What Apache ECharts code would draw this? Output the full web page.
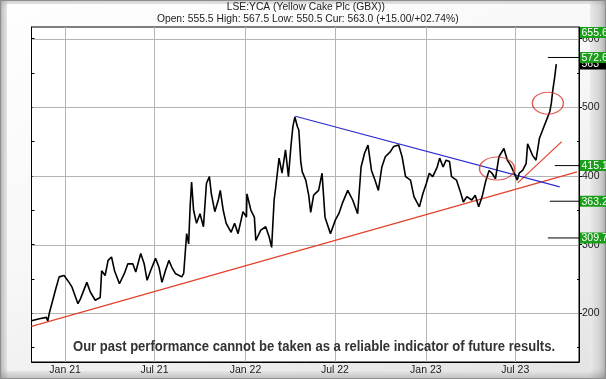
<!DOCTYPE html>
<html><head><meta charset="utf-8">
<script src="https://cdn.jsdelivr.net/npm/echarts@6/dist/echarts.min.js"></script>
<style>
html,body{margin:0;padding:0;background:#fff;}
#frame{position:absolute;left:0;top:0;width:606px;height:379px;box-sizing:border-box;border:1px solid #8e8e8e;
 background:linear-gradient(to right,#c6c6c6 0px,#ececec 8px,#ececec 588px,#d4d4d4 598px,#b4b4b4 606px);
 box-shadow: inset 0 4px 4px -2px rgba(0,0,0,0.12), inset 0 -6px 6px -2px rgba(0,0,0,0.18);}
#panel{position:absolute;left:7px;top:4px;width:583px;height:367px;background:linear-gradient(160deg,#fefefe 0%,#f8f8f8 45%,#e4e4e4 100%);}
#chart{position:absolute;left:0;top:0;width:606px;height:379px;}
</style></head>
<body>
<div id="frame"></div>
<div id="panel"></div>
<div id="chart"></div>
<script>
// ---- data ----
const dates = ['2020-10-25','2020-11-10','2020-11-24','2020-11-27','2020-11-30','2020-12-07','2020-12-14','2020-12-20','2020-12-30',
'2021-01-09','2021-01-15','2021-01-27','2021-02-01','2021-02-14','2021-02-21','2021-03-03','2021-03-13','2021-03-16','2021-03-23','2021-03-29',
'2021-04-05','2021-04-11','2021-04-21','2021-05-01','2021-05-08','2021-05-18','2021-05-24','2021-06-03','2021-06-10','2021-06-16','2021-06-23',
'2021-07-03','2021-07-10','2021-07-16','2021-07-23','2021-07-30','2021-08-05','2021-08-12','2021-08-25','2021-08-29','2021-09-01','2021-09-04',
'2021-09-08','2021-09-11','2021-09-14','2021-09-18','2021-09-24','2021-10-01','2021-10-08','2021-10-14','2021-10-20','2021-10-24','2021-10-31',
'2021-11-07','2021-11-11','2021-11-17','2021-11-23','2021-12-03','2021-12-10','2021-12-17','2021-12-27',
'2022-01-03','2022-01-04','2022-01-12','2022-01-19','2022-01-22','2022-02-01','2022-02-11','2022-02-18','2022-02-23','2022-02-28','2022-03-03',
'2022-03-10','2022-03-16','2022-03-23','2022-03-29','2022-04-03','2022-04-07','2022-04-11','2022-04-16','2022-04-19','2022-04-23','2022-04-26',
'2022-05-03','2022-05-09','2022-05-13','2022-05-19','2022-05-29','2022-06-05','2022-06-11','2022-06-15','2022-06-22','2022-07-02','2022-07-09',
'2022-07-16','2022-07-27','2022-08-06','2022-08-16','2022-08-23','2022-08-30','2022-09-06','2022-09-13','2022-09-20','2022-09-27','2022-10-04',
'2022-10-11','2022-10-21','2022-10-28','2022-11-07','2022-11-14','2022-11-21','2022-12-01','2022-12-08','2022-12-19','2022-12-26',
'2023-01-02','2023-01-08','2023-01-15','2023-01-24','2023-01-29','2023-02-05','2023-02-11','2023-02-18','2023-02-22','2023-03-04','2023-03-11',
'2023-03-18','2023-03-25','2023-04-04','2023-04-11','2023-04-18','2023-04-25','2023-05-02','2023-05-09','2023-05-15','2023-05-22','2023-05-25',
'2023-05-29','2023-06-08','2023-06-15','2023-06-22','2023-06-29','2023-07-05','2023-07-09','2023-07-16','2023-07-23','2023-07-26','2023-08-05',
'2023-08-12','2023-08-19','2023-08-26','2023-09-02','2023-09-09','2023-09-12','2023-09-15','2023-09-19','2023-09-22'];
const prices = [189,192,194,189,200,219,238,253,255,
245,238,214,221,245,231,219,223,262,255,277,
282,262,243,258,272,272,260,287,272,248,262,
280,267,245,262,277,267,258,253,258,287,316,
301,355,391,350,331,345,326,389,399,374,348,
365,379,350,331,318,331,316,348,
340,374,350,340,306,321,326,311,296,365,382,
426,404,438,399,443,472,486,472,467,420,406,
394,372,347,372,379,404,340,331,316,336,345,
360,379,365,345,413,433,445,408,394,379,413,
428,435,443,445,428,399,394,370,355,374,
389,404,399,413,426,413,423,421,399,394,379,
362,370,365,372,355,370,392,408,404,396,394,
428,440,423,415,404,394,404,408,418,447,430,
423,455,468,481,494,506,525,545,563];

const blueDates = ['2022-04-12','2023-09-29'];
const blueValues = [487, 384];
const redLongDates = ['2020-10-25','2023-11-03'];
const redLongValues = [181, 406];
const redShortDates = ['2023-07-06','2023-10-03'];
const redShortValues = [390, 450];
const circleDates = ['2023-05-25','2023-09-05'];
const circleValues = [411, 506];

const targetLevels = [655.6, 572.6, 415.1, 363.2, 309.7];
const targetLabels = ['655.6','572.6','415.1','363.2','309.7'];
const targetStart = [null,'2023-09-05','2023-09-19','2023-09-09','2023-09-05'];
const currentPrice = 563.0;
const currentLabel = '563';

const yTickLabels = [200,300,400,500,600];
const yMinorTicks = [150,250,350,450,550];
const yAllTicks = [150,200,250,300,350,400,450,500,550,600];
const monthNames = ['Jan','Feb','Mar','Apr','May','Jun','Jul','Aug','Sep','Oct','Nov','Dec'];

const titleText = 'LSE:YCA (Yellow Cake Plc (GBX))';
const subText = 'Open: 555.5 High: 567.5 Low: 550.5 Cur: 563.0 (+15.00/+02.74%)';
const disclaimer = 'Our past performance cannot be taken as a reliable indicator of future results.';

const xMin = '2020-10-25', xMax = '2023-11-07';
const yMin = 129, yMax = 617;

// ---- build ----
const DAY = 86400000;
const FONT = '"Liberation Sans", Arial, sans-serif';
const pair = (ds, vs) => ds.map((d, i) => [d, vs[i]]);

const series = [
  {type:'line', data: pair(redLongDates, redLongValues), showSymbol:false, lineStyle:{color:'#e3412c', width:1.2}, z:3, silent:true},
  {type:'line', data: pair(redShortDates, redShortValues), showSymbol:false, lineStyle:{color:'#e3412c', width:1.2}, z:3, silent:true},
  {type:'line', data: pair(blueDates, blueValues), showSymbol:false, lineStyle:{color:'#2c2ccf', width:1.2}, z:3, silent:true},
  {type:'line', data: pair(dates, prices), showSymbol:false, lineStyle:{color:'#000', width:1.6}, z:4, silent:true},
  {type:'scatter', data: circleDates.map((d, i) => ({value:[d, circleValues[i]], symbolSize: i === 0 ? [35, 23] : [31, 22]})),
   symbol:'circle', itemStyle:{color:'rgba(0,0,0,0)', borderColor:'#d9342a', borderWidth:1.2}, z:5, silent:true}
];
targetLevels.forEach((v, i) => {
  if (targetStart[i]) series.push({type:'line', data:[[targetStart[i], v],[xMax, v]], showSymbol:false,
    lineStyle:{color:'#000', width:1}, z:3, silent:true});
});

const option = {
  backgroundColor: 'transparent',
  animation: false,
  grid: {left: 31.5, right: 27, top: 27, bottom: 17, show: true, backgroundColor: '#fff', borderColor: '#000', borderWidth: 1, containLabel:false, outerBoundsMode:'none'},
  xAxis: {type:'time', min: xMin, max: xMax, splitNumber: 6, minInterval: 180*DAY, maxInterval: 186*DAY,
    axisLine:{show:true, lineStyle:{color:'#000'}}, axisTick:{show:false},
    axisLabel:{fontFamily: FONT, fontSize:10.5, color:'#1a1a1a', margin:3, showMinLabel:false, showMaxLabel:false,
      formatter: v => { const d = new Date(v); return monthNames[d.getMonth()] + ' ' + String(d.getFullYear()).slice(2); }},
    splitLine:{show:true, lineStyle:{color:'#b4b4b4', width:1}}},
  yAxis: [
    {type:'value', position:'right', min:yMin, max:yMax, splitNumber:4,
     axisLine:{show:true, lineStyle:{color:'#000'}},
     axisTick:{show:true, customValues: yTickLabels, length:3, lineStyle:{color:'#000'}},
     axisLabel:{customValues: yTickLabels, margin:3, fontFamily: FONT, fontSize:10.5, color:'#1a1a1a'},
     splitLine:{show:false}},
    {type:'value', position:'left', min:yMin, max:yMax, splitNumber:4,
     axisLine:{show:true, lineStyle:{color:'#000'}},
     axisTick:{show:true, inside:true, customValues: yAllTicks, length:3, lineStyle:{color:'#000'}},
     axisLabel:{show:false}, splitLine:{show:false}},
    {type:'value', position:'right', min:yMin, max:yMax, splitNumber:4,
     axisLine:{show:false},
     axisTick:{show:true, inside:true, customValues: yMinorTicks, length:2, lineStyle:{color:'#000'}},
     axisLabel:{show:false}, splitLine:{show:false}}
  ],
  series: series
};

const chart = echarts.init(document.getElementById('chart'), null, {renderer:'canvas'});
chart.setOption(option);

const yTop = chart.convertToPixel({yAxisIndex:0}, yMax);
const xR = chart.convertToPixel({xAxisIndex:0}, new Date(xMax).getTime());
const xL = chart.convertToPixel({xAxisIndex:0}, new Date(xMin).getTime());
const yBot = chart.convertToPixel({yAxisIndex:0}, yMin);
const g = [];
// horizontal grid lines at the labelled values, placed through the y scale
yTickLabels.forEach(v => {
  const y = Math.round(chart.convertToPixel({yAxisIndex:0}, v)) + 0.5;
  g.push({type:'line', shape:{x1:xL + 1, y1:y, x2:xR - 1, y2:y}, style:{stroke:'#b4b4b4', lineWidth:1}, z:2.5, silent:true});
});
function box(v, txt, fill, z) {
  let y = chart.convertToPixel({yAxisIndex:0}, v);
  y = Math.max(y, yTop + 5.5);
  g.push({type:'rect', shape:{x:xR + 1, y:y - 5.5, width:34, height:11}, style:{fill:fill}, z:z, silent:true});
  g.push({type:'text', x:xR + 2.5, y:y + 0.5, style:{text:txt, fill:'#fff', font:'10.5px ' + FONT, textVerticalAlign:'middle', verticalAlign:'middle'}, z:z + 1, silent:true});
}
box(currentPrice, currentLabel, '#000', 50);
targetLevels.forEach((v, i) => box(v, targetLabels[i], '#1a9e1a', 60));
g.push({type:'text', x:(xL + xR) / 2 + 0.5, y:7.5, style:{text:titleText, fill:'#222', font:'10.3px ' + FONT, textAlign:'center', align:'center', textVerticalAlign:'middle', verticalAlign:'middle'}, z:70, silent:true});
g.push({type:'text', x:(xL + xR) / 2 + 2.5, y:19.5, style:{text:subText, fill:'#222', font:'10.3px ' + FONT, textAlign:'center', align:'center', textVerticalAlign:'middle', verticalAlign:'middle'}, z:70, silent:true});
// disclaimer: bold, horizontally condensed to the reference's width
const dFont = 'bold 14px "Liberation Sans", Arial, sans-serif';
const ctx = document.createElement('canvas').getContext('2d');
ctx.font = dFont;
const dScale = 482 / ctx.measureText(disclaimer).width;
g.push({type:'text', x:314, y:yBot - 15, scaleX:dScale, style:{text:disclaimer, fill:'#333', font:dFont, textAlign:'center', align:'center', textVerticalAlign:'middle', verticalAlign:'middle'}, z:70, silent:true});
chart.setOption({graphic: g});
</script>
</body></html>
